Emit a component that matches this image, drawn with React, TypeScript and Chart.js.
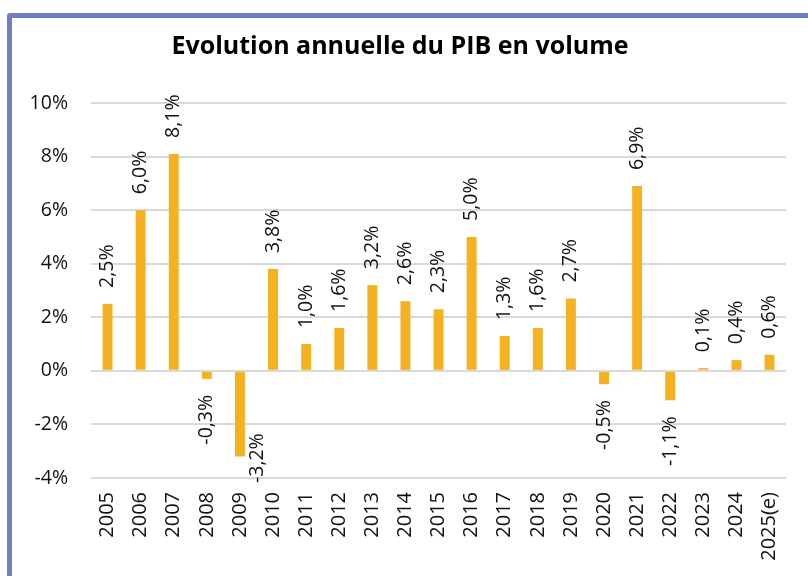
import React, { useEffect, useRef } from "react";
import { Chart, registerables } from "chart.js";

Chart.register(...registerables);

const categories = [
  "2005", "2006", "2007", "2008", "2009", "2010", "2011", "2012", "2013", "2014",
  "2015", "2016", "2017", "2018", "2019", "2020", "2021", "2022", "2023", "2024", "2025(e)",
];
const growth = [
  2.5, 6.0, 8.1, -0.3, -3.2, 3.8, 1.0, 1.6, 3.2, 2.6,
  2.3, 5.0, 1.3, 1.6, 2.7, -0.5, 6.9, -1.1, 0.1, 0.4, 0.6,
];
const yMin = -4;
const yMax = 10;
const yStep = 2;
const titleText = "Evolution annuelle du PIB en volume";

const FONT = "'Open Sans', 'DejaVu Sans', sans-serif";
const BAR_COLOR = "#F4B120";

const fmt = (v: number) => v.toFixed(1).replace(".", ",") + "%";

const titlePlugin = {
  id: "customTitle",
  afterDraw(chart: any) {
    const { ctx } = chart;
    ctx.save();
    ctx.font = `bold 25px ${FONT}`;
    ctx.fillStyle = "#000";
    ctx.textAlign = "center";
    ctx.textBaseline = "middle";
    ctx.fillText(titleText, 400, 47);
    ctx.restore();
  },
};

const labelPlugin = {
  id: "barLabels",
  afterDatasetsDraw(chart: any) {
    const { ctx, chartArea } = chart;
    const meta = chart.getDatasetMeta(0);
    const data = chart.data.datasets[0].data as number[];
    ctx.save();
    ctx.font = `19.5px ${FONT}`;
    ctx.fillStyle = "#111";
    ctx.textBaseline = "middle";
    meta.data.forEach((el: any, i: number) => {
      const v = data[i];
      const text = fmt(v);
      const w = ctx.measureText(text).width;
      const gap = 16;
      ctx.save();
      if (v >= 0) {
        ctx.translate(el.x, el.y - gap);
        ctx.rotate(-Math.PI / 2);
        ctx.textAlign = "left";
      } else if (el.y + gap + w <= chartArea.bottom) {
        ctx.translate(el.x, el.y + gap);
        ctx.rotate(-Math.PI / 2);
        ctx.textAlign = "right";
      } else {
        ctx.translate(el.x + 17, chartArea.bottom + 5);
        ctx.rotate(-Math.PI / 2);
        ctx.textAlign = "left";
      }
      ctx.fillText(text, 0, 0);
      ctx.restore();
    });
    ctx.restore();
  },
};

export default function App() {
  const ref = useRef<HTMLCanvasElement>(null);

  useEffect(() => {
    if (!ref.current) return;
    const chart = new Chart(ref.current, {
      type: "bar",
      data: {
        labels: categories,
        datasets: [
          {
            data: growth,
            backgroundColor: BAR_COLOR,
            borderWidth: 0,
            barPercentage: 0.3,
            categoryPercentage: 1,
          },
        ],
      },
      options: {
        animation: false,
        responsive: false,
        devicePixelRatio: 1,
        layout: { padding: { left: 0, right: 21, top: 103, bottom: 0 } },
        plugins: {
          legend: { display: false },
          tooltip: { enabled: false },
          title: { display: false },
        },
        scales: {
          x: {
            grid: { display: false, drawTicks: false },
            border: { display: false },
            ticks: {
              color: "#111",
              font: { family: FONT, size: 20 },
              minRotation: 90,
              maxRotation: 90,
              autoSkip: false,
              padding: 14,
            },
            afterFit(scale: any) {
              scale.height = 98;
            },
          },
          y: {
            min: yMin,
            max: yMax,
            grid: { color: "#D9D9D9", lineWidth: 2, drawTicks: false },
            border: { display: false },
            ticks: {
              stepSize: yStep,
              color: "#111",
              font: { family: FONT, size: 19.5 },
              padding: 23,
              callback: (v: any) => `${v}%`,
            },
            afterFit(scale: any) {
              scale.width = 91;
            },
          },
        },
      },
      plugins: [labelPlugin, titlePlugin],
    });
    return () => chart.destroy();
  }, []);

  return (
    <div
      style={{
        position: "fixed",
        left: 0,
        top: 0,
        width: 808,
        height: 576,
        overflow: "hidden",
        background: "#fff",
      }}
    >
      <div
        style={{
          position: "absolute",
          left: 7,
          top: 13,
          width: 900,
          height: 700,
          border: "5px solid #6F7FBF",
          borderRadius: 3,
        }}
      />
      <canvas
        ref={ref}
        width={808}
        height={576}
        style={{ position: "absolute", left: 0, top: 0, width: 808, height: 576 }}
      />
    </div>
  );
}
